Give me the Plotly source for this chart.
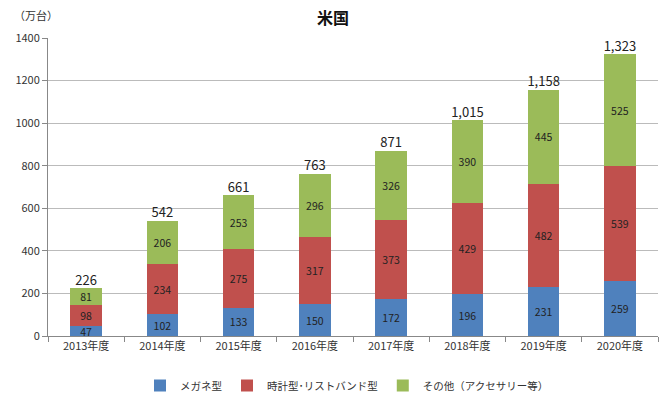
import plotly.graph_objects as go

categories = ["2013年度", "2014年度", "2015年度", "2016年度", "2017年度", "2018年度", "2019年度", "2020年度"]
glasses = [47, 102, 133, 150, 172, 196, 231, 259]
watch = [98, 234, 275, 317, 373, 429, 482, 539]
other = [81, 206, 253, 296, 326, 390, 445, 525]
totals = [226, 542, 661, 763, 871, 1015, 1158, 1323]
series_names = ["メガネ型", "時計型･リストバンド型", "その他（アクセサリー等）"]
colors = ["#4F81BD", "#C0504D", "#9BBB59"]
y_ticks = [0, 200, 400, 600, 800, 1000, 1200, 1400]

FONT = "Noto Sans CJK JP"
fig = go.Figure()
for name, vals, col in zip(series_names, [glasses, watch, other], colors):
    fig.add_trace(go.Bar(
        x=categories, y=vals, name=name, marker=dict(color=col, line=dict(width=0)),
        text=[str(v) for v in vals], textposition="inside", insidetextanchor="middle",
        textangle=0, textfont=dict(size=10.5, color="#222222", family=FONT),
        constraintext="none", width=0.41,
    ))

fig.add_trace(go.Scatter(
    x=categories, y=totals, mode="text", text=[f"{t:,}" for t in totals],
    textposition="top center", textfont=dict(size=13, color="#222222", family=FONT),
    showlegend=False, hoverinfo="skip", cliponaxis=False,
))

plot_w = 665 - 48 - 7
plot_h = 396 - 38 - 60

fig.update_layout(
    barmode="stack", width=665, height=396,
    margin=dict(l=48, r=7, t=38, b=60, autoexpand=False),
    paper_bgcolor="white", plot_bgcolor="white",
    font=dict(family=FONT, size=11, color="#333333"),
    legend=dict(orientation="h", x=(347 - 48) / plot_w, xanchor="center", y=-(371 - 336) / plot_h,
                yanchor="top", font=dict(size=10.5, color="#333333"), itemwidth=30,
                traceorder="normal"),
    annotations=[
        dict(text="<b>米国</b>", x=(333 - 48) / plot_w, xref="paper", y=(396 - 60 - 17) / plot_h,
             yref="paper", yanchor="middle", showarrow=False,
             font=dict(size=16, color="#111111", family=FONT)),
        dict(text="（万台）", x=(12 - 48) / plot_w, xref="paper", y=(396 - 60 - 15) / plot_h,
             yref="paper", showarrow=False, xanchor="left", yanchor="middle",
             font=dict(size=11, color="#333333", family=FONT)),
    ],
)

fig.update_xaxes(showline=True, linecolor="#888888", linewidth=1, ticks="outside",
                 tickson="boundaries", ticklen=5, tickcolor="#888888",
                 tickfont=dict(size=11, color="#333333"), showgrid=False)
fig.update_yaxes(range=[0, 1400], tickvals=y_ticks, showline=True, linecolor="#888888",
                 linewidth=1, ticks="outside", ticklen=5, tickcolor="#888888",
                 gridcolor="#BBBBBB", gridwidth=1, tickfont=dict(size=11, color="#333333"),
                 zeroline=False)

fig.write_html("out.html", config={"displayModeBar": False},
               post_script="document.body.style.margin='0';document.body.style.overflow='hidden';")
